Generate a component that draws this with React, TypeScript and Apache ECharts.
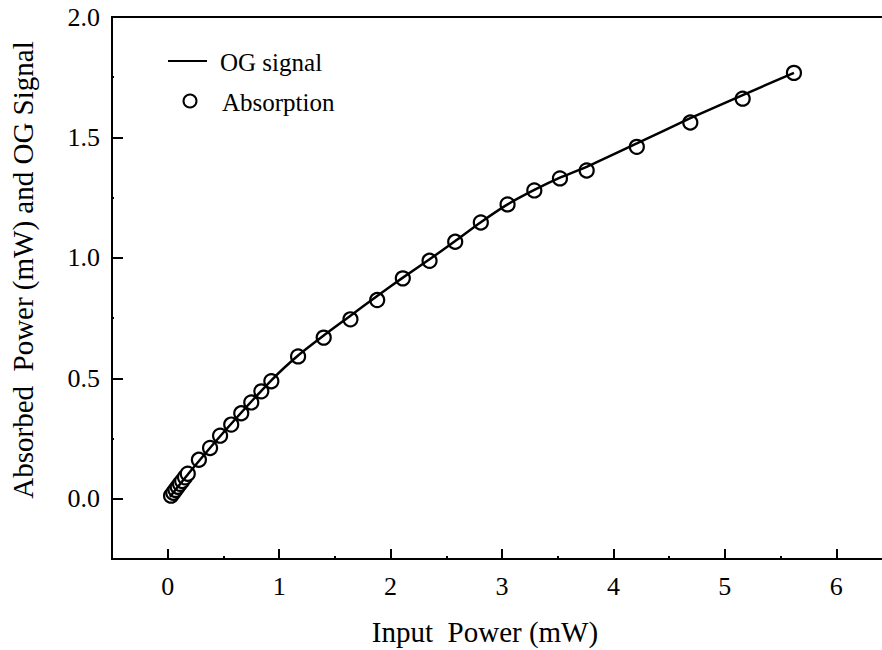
import React, { useEffect, useRef } from "react";
import * as echarts from "echarts";

const absX = [0.03, 0.05, 0.07, 0.09, 0.11, 0.13, 0.155, 0.18, 0.28, 0.38, 0.47, 0.57, 0.66, 0.75, 0.84, 0.93, 1.17, 1.4, 1.64, 1.88, 2.11, 2.35, 2.58, 2.81, 3.05, 3.29, 3.52, 3.76, 4.21, 4.69, 5.16, 5.62];
const absY = [0.013, 0.025, 0.037, 0.05, 0.062, 0.074, 0.089, 0.104, 0.162, 0.211, 0.262, 0.308, 0.355, 0.4, 0.446, 0.488, 0.591, 0.669, 0.745, 0.825, 0.915, 0.988, 1.067, 1.147, 1.222, 1.28, 1.33, 1.363, 1.461, 1.562, 1.661, 1.768];

const ogX = [0.02, 0.2, 0.5, 0.93, 1.17, 1.4, 1.64, 1.88, 2.11, 2.35, 2.58, 2.81, 3.05, 3.29, 3.52, 3.76, 4.21, 4.69, 5.16, 5.62];
const ogY = [0.008, 0.112, 0.275, 0.492, 0.595, 0.678, 0.76, 0.842, 0.918, 0.994, 1.07, 1.148, 1.222, 1.282, 1.333, 1.378, 1.475, 1.58, 1.676, 1.768];

const xTicks = [0, 1, 2, 3, 4, 5, 6];
const yTicks = [0, 0.5, 1, 1.5, 2];

const FONT = "serif";

export default function App() {
  const ref = useRef<HTMLDivElement>(null);
  useEffect(() => {
    if (!ref.current) return;
    const chart = echarts.init(ref.current, null, { renderer: "svg" });
    const axisLineStyle = { color: "#000", width: 2 };
    chart.setOption({
      animation: false,
      backgroundColor: "#fff",
      textStyle: { fontFamily: FONT },
      grid: {
        left: 112,
        top: 17,
        right: -10,
        bottom: 91,
        outerBoundsMode: "none",
        containLabel: false,
        show: true,
        borderColor: "#000",
        borderWidth: 2,
        backgroundColor: "transparent",
      },
      xAxis: [
        {
          type: "value",
          min: -0.5,
          max: 6.5,
          name: "Input  Power (mW)",
          nameLocation: "middle",
          nameGap: 58,
          nameTextStyle: { fontFamily: FONT, fontSize: 29, color: "#000", padding: [0, 34, 0, 0] },
          axisLine: { show: true, onZero: false, lineStyle: axisLineStyle },
          axisTick: { show: true, inside: true, length: 10, customValues: xTicks, lineStyle: { color: "#000", width: 2 } },
          axisLabel: { show: true, customValues: xTicks, margin: 14, fontFamily: FONT, fontSize: 26, color: "#000" },
          splitLine: { show: false },
        },
        {
          type: "value",
          min: -0.5,
          max: 6.5,
          interval: 0.5,
          position: "bottom",
          axisLine: { show: false, onZero: false },
          axisTick: { show: true, inside: true, length: 3, lineStyle: { color: "#000", width: 2 } },
          axisLabel: { show: false },
          splitLine: { show: false },
        },
      ],
      yAxis: [
        {
          type: "value",
          min: -0.25,
          max: 2,
          name: "Absorbed  Power (mW) and OG Signal",
          nameLocation: "middle",
          nameGap: 75,
          nameRotate: 90,
          nameTextStyle: { fontFamily: FONT, fontSize: 29, color: "#000", padding: [0, 0, 0, 36] },
          axisLine: { show: true, onZero: false, lineStyle: axisLineStyle },
          axisTick: { show: true, inside: true, length: 11, customValues: yTicks, lineStyle: { color: "#000", width: 2 } },
          axisLabel: {
            show: true,
            customValues: yTicks,
            margin: 12,
            fontFamily: FONT,
            fontSize: 26,
            color: "#000",
            formatter: (v: number) => v.toFixed(1),
          },
          splitLine: { show: false },
        },
        {
          type: "value",
          min: -0.25,
          max: 2,
          interval: 0.25,
          position: "left",
          axisLine: { show: false, onZero: false },
          axisTick: { show: true, inside: true, length: 2, lineStyle: { color: "#000", width: 2 } },
          axisLabel: { show: false },
          splitLine: { show: false },
        },
      ],
      series: [
        {
          name: "OG signal",
          type: "line",
          smooth: 0.2,
          showSymbol: false,
          lineStyle: { color: "#000", width: 2.5 },
          data: ogX.map((x, i) => [x, ogY[i]]),
          z: 3,
        },
        {
          name: "Absorption",
          type: "scatter",
          symbol: "circle",
          symbolSize: 14,
          itemStyle: { color: "#fff", borderColor: "#000", borderWidth: 2.2, opacity: 1 },
          data: absX.map((x, i) => [x, absY[i]]),
          z: 2,
        },
      ],
      graphic: [
        { type: "line", shape: { x1: 168, y1: 61, x2: 207, y2: 61 }, style: { stroke: "#000", lineWidth: 2 } },
        {
          type: "text",
          x: 220,
          y: 62,
          style: { text: "OG signal", fontFamily: FONT, fontSize: 25, fill: "#000", verticalAlign: "middle", align: "left" },
        },
        { type: "circle", shape: { cx: 190, cy: 101, r: 6.5 }, style: { fill: "#fff", stroke: "#000", lineWidth: 2 } },
        {
          type: "text",
          x: 222,
          y: 102,
          style: { text: "Absorption", fontFamily: FONT, fontSize: 25, fill: "#000", verticalAlign: "middle", align: "left" },
        },
      ],
    });
    return () => chart.dispose();
  }, []);
  return (
    <div
      ref={ref}
      style={{ position: "absolute", left: 0, top: 0, width: 882, height: 650, overflow: "hidden" }}
    />
  );
}
